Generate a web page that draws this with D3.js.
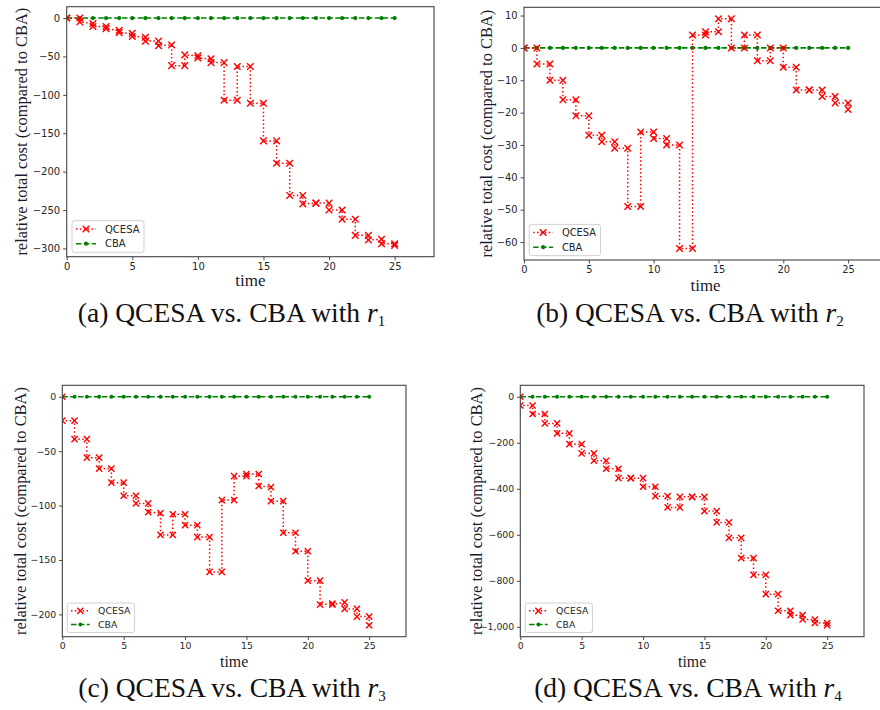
<!DOCTYPE html>
<meta charset="utf-8">
<style>
    body { margin: 0; background: white; }
    svg { display: block; }
</style>
<body>
<svg></svg>
<script src="https://d3js.org/d3.v7.min.js"></script>
<script>

    // time steps and tick values
    let times = [0, 1, 2, 3, 4, 5, 6, 7, 8, 9, 10, 11, 12, 13, 14, 15, 16, 17, 18, 19, 20, 21, 22, 23, 24, 25];
    let cbaCost = [0, 0, 0, 0, 0, 0, 0, 0, 0, 0, 0, 0, 0, 0, 0, 0, 0, 0, 0, 0, 0, 0, 0, 0, 0, 0];
    let xTicks = [0, 5, 10, 15, 20, 25];

    // QCESA relative cost: value at each step before / after the jump
    let r1Before = [0, 0, -7, -11, -16, -20, -25, -30, -35, -62, -49, -53, -58, -107, -63, -111, -160, -189, -231, -241, -241, -250, -262, -283, -288, -294];
    let r1After  = [0, -5, -11, -14, -19, -24, -30, -36, -62, -48, -52, -58, -107, -63, -111, -160, -189, -231, -242, -241, -250, -262, -283, -289, -294, -296];
    let r1Ticks  = [0, -50, -100, -150, -200, -250, -300];

    let r2Before = [0, 0, -5, -10, -16, -21, -27, -29, -31, -49, -26, -28, -30, -62, 4, 5, 9, 0, 4, -4, 0, -6, -13, -13, -15, -17];
    let r2After  = [0, -5, -10, -16, -21, -27, -29, -31, -49, -26, -28, -30, -62, 4, 5, 9, 0, 4, -4, 0, -6, -13, -13, -15, -17, -19];
    let r2Ticks  = [10, 0, -10, -20, -30, -40, -50, -60];

    let r3Before = [0, -22, -39, -56, -66, -79, -91, -98, -107, -127, -108, -118, -129, -161, -95, -73, -71, -83, -96, -125, -142, -169, -190, -189, -195, -202];
    let r3After  = [-22, -39, -56, -66, -79, -91, -98, -106, -127, -108, -118, -129, -161, -95, -73, -71, -82, -96, -125, -142, -169, -191, -191, -195, -202, -210];
    let r3Ticks  = [0, -50, -100, -150, -200];

    let r4Before = [0, -38, -75, -116, -159, -206, -246, -278, -313, -354, -354, -391, -432, -481, -435, -435, -497, -546, -613, -701, -774, -858, -930, -949, -968, -983];
    let r4After  = [-38, -75, -116, -159, -206, -246, -278, -313, -354, -354, -391, -432, -481, -435, -435, -497, -546, -613, -701, -774, -858, -930, -949, -968, -983, -993];
    let r4Ticks  = [0, -200, -400, -600, -800, -1000];

    let legendNames = ["QCESA", "CBA"];
    let captionLetters = ["a", "b", "c", "d"];

    let width = 880,
        height = 710;

    let svg = d3.select("svg")
        .attr("width", width)
        .attr("height", height);

    let serif = "'Liberation Serif', 'Times New Roman', serif",
        sans = "'DejaVu Sans', sans-serif",
        red = "#ff0000",
        green = "#008000",
        ink = "#1a1a2e";

    // layout of each sub figure (pixels)
    let panels = [
        {before: r1Before, after: r1After, ticks: r1Ticks, left: 66.7, top: 6.7, right: 434, bottom: 256.7,
            k: 1, ylabX: 21.7, xlabY: 286, capX: 231.5, capY: 322},
        {before: r2Before, after: r2After, ticks: r2Ticks, left: 524, top: 7.3, right: 887, bottom: 260,
            k: 0.99, ylabX: 486.7, xlabY: 291, capX: 690, capY: 322},
        {before: r3Before, after: r3After, ticks: r3Ticks, left: 62.3, top: 385.3, right: 406, bottom: 636.7,
            k: 0.935, ylabX: 20.7, xlabY: 667, capX: 232, capY: 697},
        {before: r4Before, after: r4After, ticks: r4Ticks, left: 520.3, top: 385.3, right: 864, bottom: 636.7,
            k: 0.935, ylabX: 476, xlabY: 667, capX: 688, capY: 697}
    ];

    function fitText(sel, target) {
        let size = parseFloat(sel.attr("font-size"));
        let len = sel.node().getComputedTextLength();
        sel.attr("font-size", size * target / len);
    }

    function crossPath(s) {
        return "M" + (-s) + "," + (-s) + "L" + s + "," + s + "M" + (-s) + "," + s + "L" + s + "," + (-s);
    }

    panels.forEach(function (p, i) {
        let k = p.k;

        // step points: two values per time step
        let points = [];
        times.forEach(function (t, j) {
            points.push({t: t, v: p.before[j]});
            points.push({t: t, v: p.after[j]});
        });

        let lo = d3.min(points, d => d.v),
            hi = Math.max(0, d3.max(points, d => d.v)),
            pad = (hi - lo) * 0.05;

        let x = d3.scaleLinear().domain([0, 28]).range([p.left, p.right]);
        let y = d3.scaleLinear().domain([lo - pad, hi + pad]).range([p.bottom, p.top]);

        let g = svg.append("g");

        g.append("clipPath").attr("id", "clip" + i)
            .append("rect")
            .attr("x", p.left).attr("y", p.top)
            .attr("width", p.right - p.left).attr("height", p.bottom - p.top);

        // axes
        let xAxis = g.append("g")
            .attr("transform", "translate(0," + p.bottom + ")")
            .call(d3.axisBottom(x).tickValues(xTicks).tickSize(3.5 * k).tickPadding(3 * k));
        let yAxis = g.append("g")
            .attr("transform", "translate(" + p.left + ",0)")
            .call(d3.axisLeft(y).tickValues(p.ticks).tickSize(3.5 * k).tickPadding(3 * k));

        [xAxis, yAxis].forEach(function (ax) {
            ax.select(".domain").remove();
            ax.selectAll("line").attr("stroke", "#333").attr("stroke-width", 0.9);
            ax.selectAll("text")
                .attr("fill", "#262626")
                .style("font-family", sans)
                .style("font-size", (10 * k) + "px");
        });

        let plot = g.append("g").attr("clip-path", "url(#clip" + i + ")");

        // CBA baseline
        let line = d3.line().x(d => x(d.t)).y(d => y(d.v));
        let cba = times.map((t, j) => ({t: t, v: cbaCost[j]}));

        plot.append("path")
            .datum(cba)
            .attr("d", line)
            .attr("fill", "none")
            .attr("stroke", green)
            .attr("stroke-width", 1.6)
            .attr("stroke-dasharray", "5.5,2.4");

        plot.selectAll(".cbaDot")
            .data(cba)
            .enter().append("circle")
            .attr("cx", d => x(d.t))
            .attr("cy", d => y(d.v))
            .attr("r", 2.1 * k)
            .attr("fill", green);

        // QCESA steps
        plot.append("path")
            .datum(points)
            .attr("d", line)
            .attr("fill", "none")
            .attr("stroke", red)
            .attr("stroke-width", 1.5)
            .attr("stroke-dasharray", "1.5,2.4");

        plot.selectAll(".mark")
            .data(points)
            .enter().append("path")
            .attr("transform", d => "translate(" + x(d.t) + "," + y(d.v) + ")")
            .attr("d", crossPath(3.3 * k))
            .attr("stroke", red)
            .attr("stroke-width", 1.4)
            .attr("fill", "none");

        // frame
        g.append("rect")
            .attr("x", p.left).attr("y", p.top)
            .attr("width", p.right - p.left).attr("height", p.bottom - p.top)
            .attr("fill", "none")
            .attr("stroke", "#444")
            .attr("stroke-width", 1.1);

        // legend
        let lx = p.left + 5.3 * k,
            lh = 31.6 * k,
            lw = 72 * k,
            ly = p.bottom - 4.4 * k - lh;
        let legend = g.append("g").attr("transform", "translate(" + lx + "," + ly + ")");
        legend.append("rect")
            .attr("width", lw).attr("height", lh)
            .attr("rx", 2.5).attr("ry", 2.5)
            .attr("fill", "white").attr("fill-opacity", 0.85)
            .attr("stroke", "#d0d0d0").attr("stroke-width", 1);

        legendNames.forEach(function (name, j) {
            let ey = (8.3 + j * 14.7) * k;
            let isQ = j === 0;
            legend.append("line")
                .attr("x1", 4 * k).attr("x2", 24 * k)
                .attr("y1", ey).attr("y2", ey)
                .attr("stroke", isQ ? red : green)
                .attr("stroke-width", 1.5)
                .attr("stroke-dasharray", isQ ? "1.5,2.4" : "5.5,2.4");
            if (isQ) {
                legend.append("path")
                    .attr("transform", "translate(" + (14 * k) + "," + ey + ")")
                    .attr("d", crossPath(3.3 * k))
                    .attr("stroke", red).attr("stroke-width", 1.4);
            } else {
                legend.append("circle")
                    .attr("cx", 14 * k).attr("cy", ey).attr("r", 2.1 * k)
                    .attr("fill", green);
            }
            legend.append("text")
                .attr("x", 33 * k).attr("y", ey)
                .attr("dy", "0.36em")
                .attr("fill", "#262626")
                .style("font-family", sans)
                .style("font-size", (10 * k) + "px")
                .text(name);
        });

        // axis titles
        let ylab = g.append("text")
            .attr("transform", "translate(" + p.ylabX + "," + ((p.top + p.bottom) / 2) + ") rotate(-90)")
            .attr("text-anchor", "middle")
            .attr("dy", "0.35em")
            .attr("fill", ink)
            .attr("font-family", serif)
            .attr("font-size", 15)
            .text("relative total cost (compared to CBA)");
        fitText(ylab, 248);

        g.append("text")
            .attr("x", (p.left + p.right) / 2)
            .attr("y", p.xlabY)
            .attr("text-anchor", "middle")
            .attr("fill", ink)
            .attr("font-family", serif)
            .attr("font-size", 17 * k)
            .text("time");

        // caption
        let cap = svg.append("text")
            .attr("x", p.capX)
            .attr("y", p.capY)
            .attr("text-anchor", "middle")
            .attr("fill", "#111")
            .attr("font-family", serif)
            .attr("font-size", 21);
        cap.append("tspan").text("(" + captionLetters[i] + ") QCESA vs. CBA with ");
        cap.append("tspan").attr("font-style", "italic").text("r");
        cap.append("tspan").attr("font-size", 15).attr("dy", 4).text(String(i + 1));
        fitText(cap, 310);
    });

</script>
</body>
